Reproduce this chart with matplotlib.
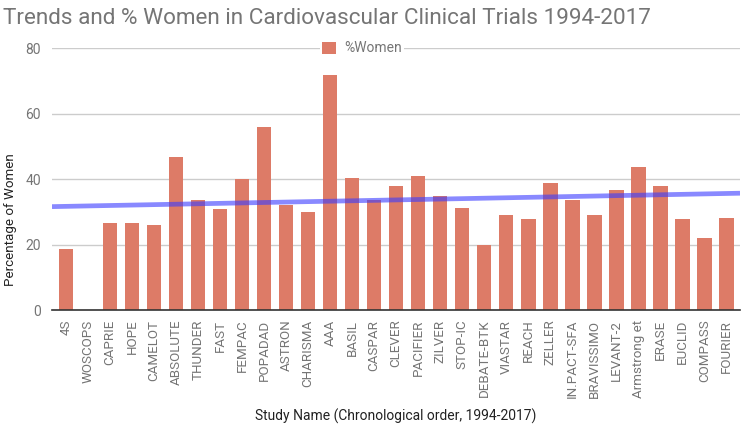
import matplotlib
matplotlib.use("Agg")
import matplotlib.pyplot as plt
import numpy as np

studies = ["4S", "WOSCOPS", "CAPRIE", "HOPE", "CAMELOT", "ABSOLUTE", "THUNDER", "FAST",
           "FEMPAC", "POPADAD", "ASTRON", "CHARISMA", "AAA", "BASIL", "CASPAR", "CLEVER",
           "PACIFIER", "ZILVER", "STOP-IC", "DEBATE-BTK", "VIASTAR", "REACH", "ZELLER",
           "IN.PACT-SFA", "BRAVISSIMO", "LEVANT-2", "Armstrong et", "ERASE", "EUCLID",
           "COMPASS", "FOURIER"]
pct_women = [18.5, 0, 26.7, 26.7, 26.1, 46.8, 33.7, 31.0,
             40.0, 55.8, 32.1, 29.9, 71.7, 40.3, 33.7, 37.8,
             40.9, 34.7, 31.3, 20.0, 28.9, 27.8, 38.8,
             33.7, 28.9, 36.8, 43.6, 37.9, 27.8,
             22.0, 28.1]
trend_ends = [31.6, 35.7]   # trendline value at left and right edges of the plot
yticks = [0, 20, 40, 60, 80]

plt.rcParams['font.family'] = ['Roboto', 'DejaVu Sans']

fig = plt.figure(figsize=(7.42, 4.26), dpi=100)
L, R, B, T = 52/742, 740/742, 1 - 310/426, 1 - 48.3/426
ax = fig.add_axes([L, B, R - L, T - B])

x = np.arange(len(studies))
bar_color = "#dd7b67"
ax.bar(x, pct_women, width=0.65, color=bar_color, zorder=2, label="%Women")

xlim = (-0.63, len(studies) - 1 + 0.61)
ax.set_xlim(*xlim)
ax.set_ylim(0, 80)
ax.plot(xlim, trend_ends, color="#3a3aff", alpha=0.6, lw=3.4, zorder=3,
        solid_capstyle="butt")

ax.set_yticks(yticks)
ax.set_yticklabels([str(t) for t in yticks], color="#757575", fontsize=10)
ax.set_xticks(x)
ax.set_xticklabels(studies, rotation=90, color="#757575", fontsize=9.6)
ax.tick_params(axis="both", length=0)
ax.tick_params(axis="x", pad=7)
ax.tick_params(axis="y", pad=8)
ax.grid(axis="y", color="#cccccc", lw=1, zorder=0)
ax.set_axisbelow(True)
for s in ["top", "right", "left"]:
    ax.spines[s].set_visible(False)
ax.spines["bottom"].set_color("#333333")
ax.spines["bottom"].set_linewidth(1.2)
ax.spines["bottom"].set_zorder(4)

fig.text(11/742, 1 - 220/426, "Percentage of Women", rotation=90,
         ha="center", va="center", color="#222222", fontsize=9.6)
fig.text(396/742, 1 - 416/426, "Study Name (Chronological order, 1994-2017)",
         ha="center", va="center", color="#222222", fontsize=10)

fig.text(3/742, 1 - 18/426, "Trends and % Women in Cardiovascular Clinical Trials 1994-2017",
         ha="left", va="center", color="#757575", fontsize=16.2)

h, l = ax.get_legend_handles_labels()
leg = fig.legend(h[:1], l[:1], loc="center", bbox_to_anchor=(362/742, 1 - 48.3/426),
                 frameon=True, facecolor="white", edgecolor="none", framealpha=1,
                 fancybox=False, fontsize=10, handlelength=0.95, handleheight=0.95,
                 handletextpad=0.6, borderpad=0.2, borderaxespad=0)
for t in leg.get_texts():
    t.set_color("#757575")

fig.savefig("out.png", dpi=100)
